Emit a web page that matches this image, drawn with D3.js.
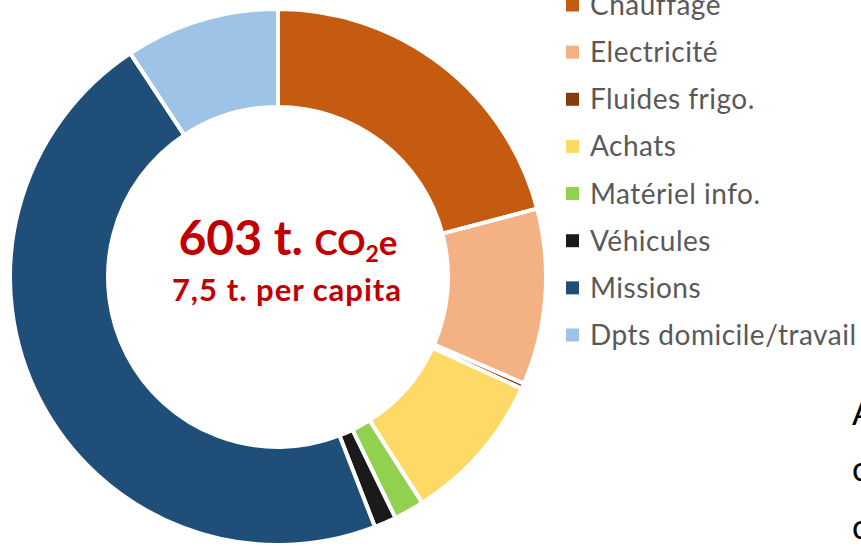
<!DOCTYPE html>
<html>
<head>
<meta charset="utf-8">
<script src="https://cdn.jsdelivr.net/npm/d3@7"></script>
<style>
	html, body { margin: 0; padding: 0; background: #ffffff; overflow: hidden; }
	svg { display: block; }
</style>
</head>
<body>
<div id="chart"></div>
<script>

// emissions par poste, t. CO2e (total 603)
var categories = ["Chauffage", "Electricité", "Fluides frigo.", "Achats", "Matériel info.", "Véhicules", "Missions", "Dpts domicile/travail"];
var values = [126, 64, 2, 55, 11, 8, 281, 56];
var colors = ["#C55A11", "#F4B183", "#843C0C", "#FFD966", "#92D050", "#1A1A1A", "#1F4E79", "#9DC3E6"];

var totalLabel = "603 t.";
var perCapitaLabel = "7,5 t. per capita";
var sideLetters = ["A", "c", "c"];

var width = 861;
var height = 547;

var svg = d3.select("#chart").append("svg")
	.attr("width", width)
	.attr("height", height);

var cx = 278, cy = 277;
var outerR = 268, innerR = 170;

var pie = d3.pie()
	.sort(null)
	.value(function(d) { return d; });

var arc = d3.arc()
	.innerRadius(innerR)
	.outerRadius(outerR);

var donut = svg.append("g")
	.attr("transform", "translate(" + cx + "," + cy + ")");

donut.selectAll("path")
	.data(pie(values))
	.enter()
	.append("path")
	.attr("d", arc)
	.attr("fill", function(d, i) { return colors[i]; })
	.attr("stroke", "#ffffff")
	.attr("stroke-width", 4)
	.attr("stroke-linejoin", "miter");

// texte au centre
var label = svg.append("text")
	.attr("x", 288)
	.attr("y", 255)
	.attr("text-anchor", "middle")
	.attr("fill", "#C00000")
	.attr("font-family", "Lato, 'Open Sans', sans-serif")
	.attr("font-weight", "bold");

label.append("tspan").attr("font-size", 48).text(totalLabel + " ");
label.append("tspan").attr("font-size", 35).text("CO");
label.append("tspan").attr("font-size", 23).attr("dy", 7).text("2");
label.append("tspan").attr("font-size", 35).attr("dy", -7).text("e");

svg.append("text")
	.attr("x", 287)
	.attr("y", 301)
	.attr("text-anchor", "middle")
	.attr("fill", "#C00000")
	.attr("font-family", "Lato, 'Open Sans', sans-serif")
	.attr("font-weight", "bold")
	.attr("font-size", 31)
	.attr("letter-spacing", 1)
	.text(perCapitaLabel);

// legende
var legendY = d3.scalePoint()
	.domain(categories)
	.range([5, 335]);

var legend = svg.append("g");

var rows = legend.selectAll("g")
	.data(categories)
	.enter()
	.append("g")
	.attr("transform", function(d) { return "translate(566," + legendY(d) + ")"; });

rows.append("rect")
	.attr("x", 0)
	.attr("y", -6.5)
	.attr("width", 13)
	.attr("height", 13)
	.attr("fill", function(d, i) { return colors[i]; });

rows.append("text")
	.attr("x", 24)
	.attr("y", 10)
	.attr("fill", "#595959")
	.attr("font-family", "Lato, 'Open Sans', sans-serif")
	.attr("font-size", 28)
	.attr("letter-spacing", 0.5)
	.text(function(d) { return d; });

// lettres coupees au bord droit
var sideY = [425, 481, 539];
svg.selectAll(".side")
	.data(sideLetters)
	.enter()
	.append("text")
	.attr("class", "side")
	.attr("x", 852)
	.attr("y", function(d, i) { return sideY[i]; })
	.attr("fill", "#000000")
	.attr("font-family", "Lato, 'Open Sans', sans-serif")
	.attr("font-size", 34)
	.text(function(d) { return d; });

</script>
</body>
</html>
